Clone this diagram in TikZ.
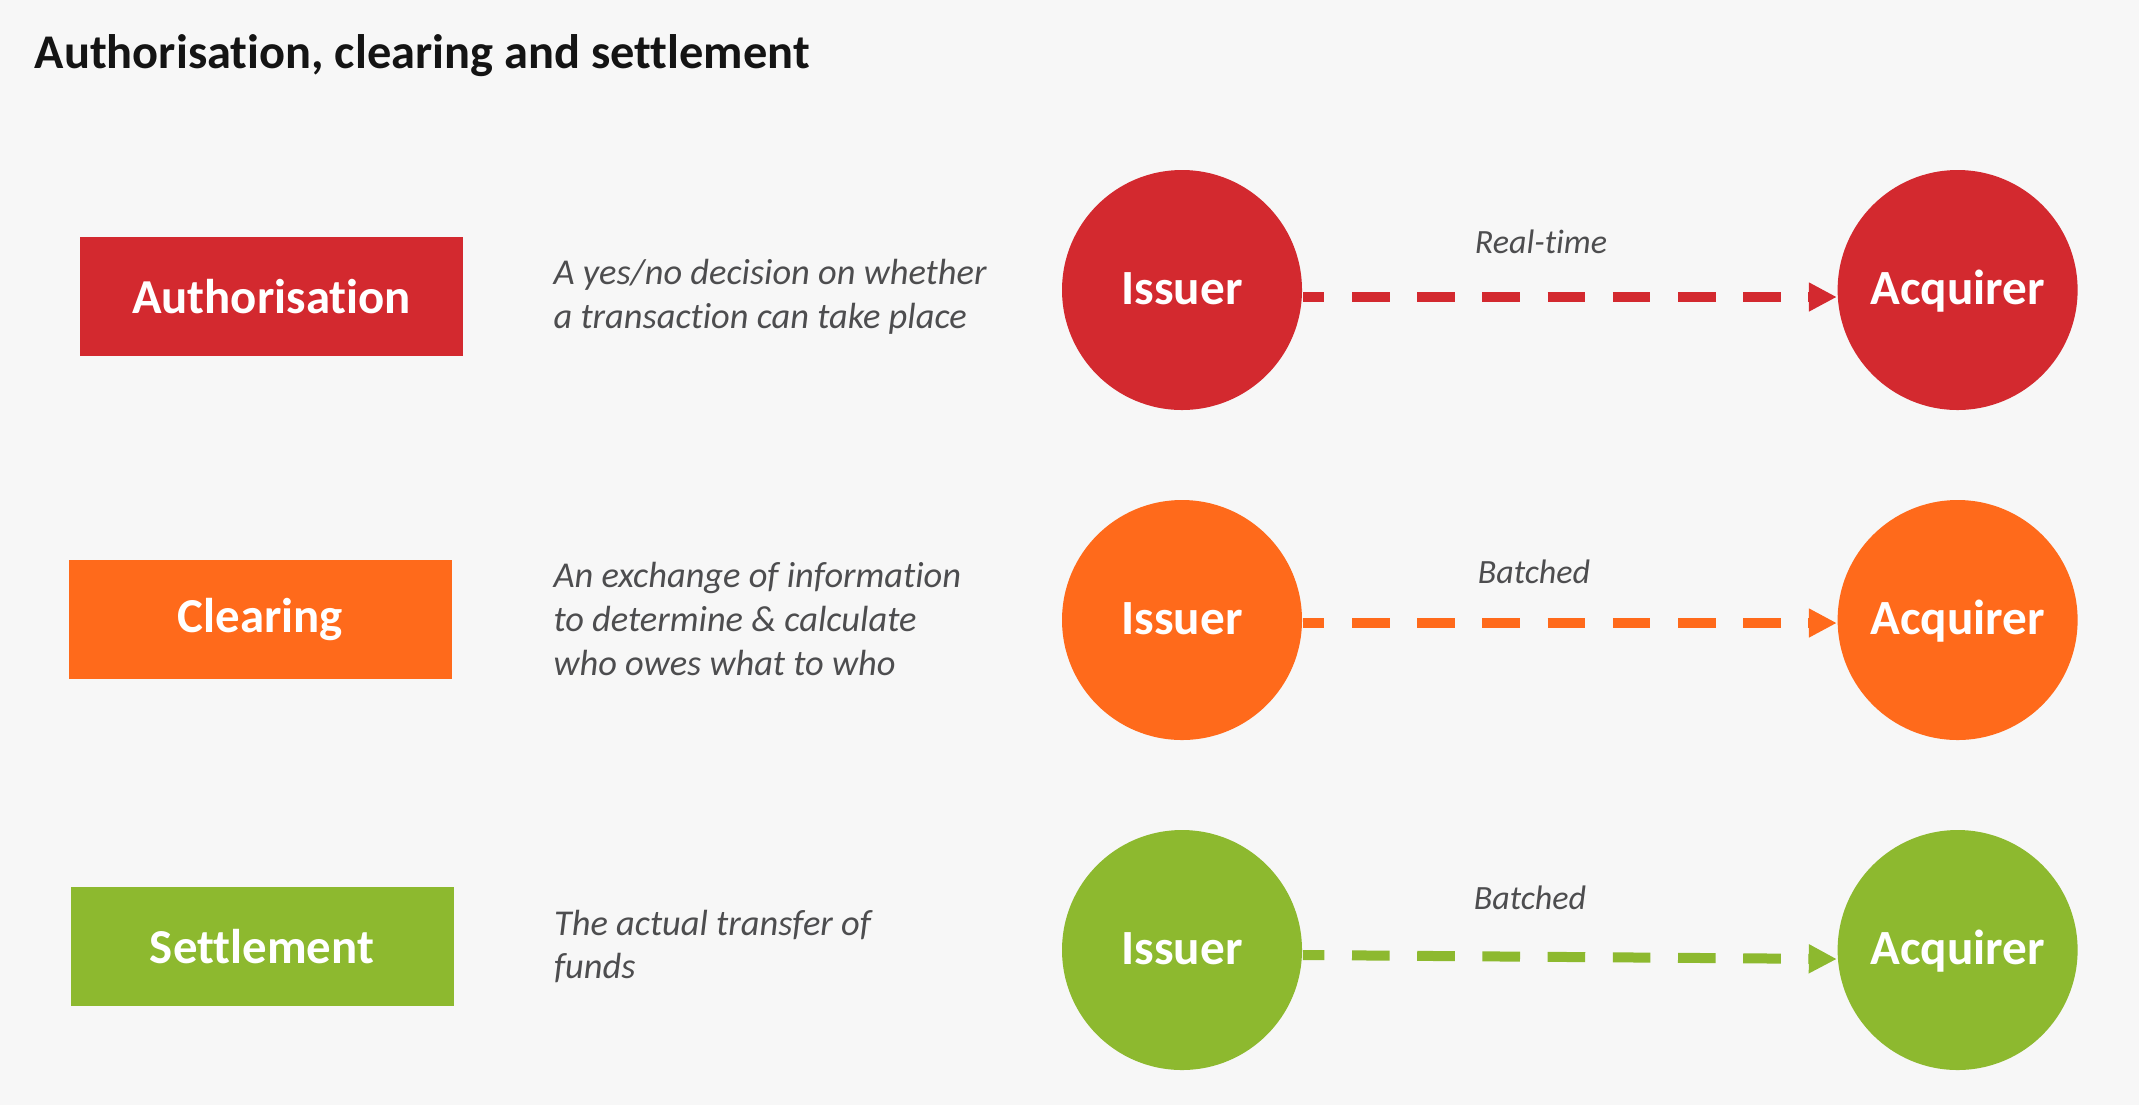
\documentclass[tikz,border=0pt]{standalone}
\usepackage{fontspec}
\setmainfont{Carlito}[Ligatures=NoCommon]
\usepackage{xcolor}
\usepackage{tikz}
\usetikzlibrary{positioning,arrows.meta}
\definecolor{authred}{HTML}{D3292F}
\definecolor{clearorange}{HTML}{FF6A1B}
\definecolor{settlegreen}{HTML}{8DB92F}
\definecolor{pagegray}{HTML}{F7F7F7}
\definecolor{descgray}{HTML}{4D4D4F}
\definecolor{titleblack}{HTML}{141414}

\begin{document}
\begin{tikzpicture}[
  x=0.25pt, y=-0.25pt,
  stage/.style={fill=#1, text=white, font=\fontsize{12.2}{14}\selectfont\bfseries, minimum width=95.75pt, minimum height=29.75pt, inner sep=0pt},
  party/.style={circle, fill=#1, text=white, font=\fontsize{12.3}{14}\selectfont\bfseries, minimum size=60pt, inner sep=0pt, text height=7.4pt, text depth=0pt},
  desc/.style={align=left, text=descgray, font=\fontsize{9.1}{10.9}\selectfont\itshape, inner sep=0pt},
  flow/.style={color=#1, line width=2.5pt, dash pattern=on 9.4pt off 6.9pt, dash phase=4pt, -{Triangle[length=7pt,width=6.8pt]}},
  lbl/.style={text=descgray, font=\fontsize{8.5}{10.9}\selectfont\itshape, inner sep=0pt, anchor=base}
]
\fill[pagegray] (0,0) rectangle (2139,1105);
\useasboundingbox (0,0) rectangle (2139,1105);

\node[anchor=base west, inner sep=0pt, text=titleblack, font=\fontsize{12.1}{14}\selectfont\bfseries] (title) at (34,68) {Authorisation, clearing and settlement};

\node[stage=authred] (auth) at (271.5,296.5) {Authorisation};
\node[stage=clearorange] (clear) at (260.5,619) {Clearing};
\node[stage=settlegreen] (settle) at (262,946.5) {Settlement};

\node[desc, right=22.25pt of auth] (authtxt) {A yes/no decision on whether\\a transaction can take place};
\node[desc, right=25pt of clear] (cleartxt) {An exchange of information\\to determine \& calculate\\who owes what to who};
\node[desc, right=24.75pt of settle] (settletxt) {The actual transfer of\\funds};

\node[party=authred] (iss1) at (1182,290) {Issuer};
\node[party=authred, right=133.5pt of iss1] (acq1) {Acquirer};
\node[party=clearorange] (iss2) at (1182,620) {Issuer};
\node[party=clearorange, right=133.5pt of iss2] (acq2) {Acquirer};
\node[party=settlegreen] (iss3) at (1182,950) {Issuer};
\node[party=settlegreen, right=133.5pt of iss3] (acq3) {Acquirer};

\draw[flow=authred] ([yshift=-1.75pt]iss1.east) -- ([yshift=-1.75pt]acq1.west);
\draw[flow=clearorange] ([yshift=-0.75pt]iss2.east) -- ([yshift=-0.75pt]acq2.west);
\draw[flow=settlegreen] ([yshift=-1.25pt]iss3.east) -- ([yshift=-2.25pt]acq3.west);

\node[lbl] (realtime) at (1541,253) {Real-time};
\node[lbl] (batch2) at (1534,583) {Batched};
\node[lbl] (batch3) at (1530,909) {Batched};
\end{tikzpicture}
\end{document}
